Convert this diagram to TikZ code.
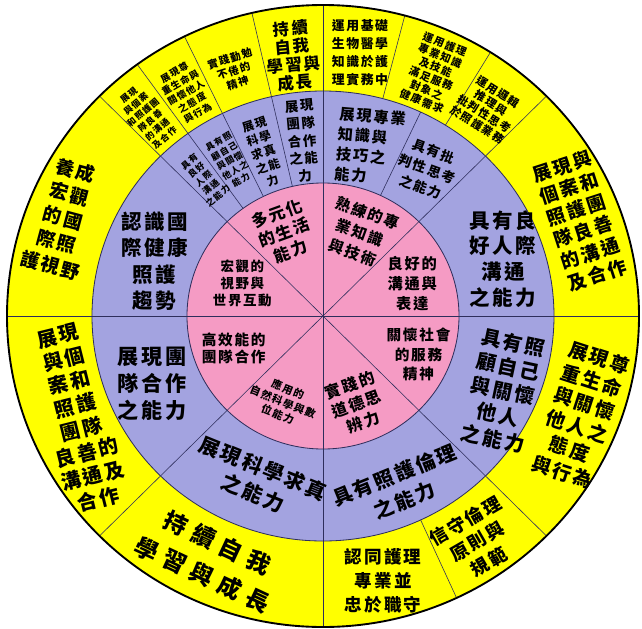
\documentclass[tikz,border=0pt]{standalone}
\usepackage{fontspec}
\newfontfamily\cjk{Noto Sans CJK TC}[LetterSpace=12]
\newfontfamily\cjkwide{Noto Sans CJK TC}[LetterSpace=30]
\usepackage{tikz}
\definecolor{wheelyellow}{HTML}{FFFF00}
\definecolor{wheelpurple}{HTML}{A3A3E0}
\definecolor{wheelpink}{HTML}{F59BC4}
\definecolor{lineblue}{HTML}{2E2E5C}

\begin{document}
\begin{tikzpicture}[
  scale=0.03,
  sep/.style={draw=lineblue, line width=0.5pt},
  rim/.style={draw=lineblue, line width=0.7pt},
  txt/.style 2 args={align=center, inner sep=0pt, text=black,
                     font=\cjk\bfseries\fontsize{#1}{#2}\selectfont},
  widetxt/.style 2 args={align=center, inner sep=0pt, text=black,
                     font=\cjkwide\bfseries\fontsize{#1}{#2}\selectfont}
]
  \useasboundingbox (-323,-312) rectangle (319,316);

  \fill[wheelyellow] (0,0) ellipse [x radius=316, y radius=311];
  \fill[wheelpurple] (0,0) ellipse [x radius=231, y radius=225];
  \fill[wheelpink]   (0,0) ellipse [x radius=136, y radius=133];

  \foreach \a in {0,45,...,315}
    \draw[sep] (0,0) -- (\a:316 and 311);
  \foreach \a in {103,116,126}
    \draw[sep] (\a:136 and 133) -- (\a:316 and 311);
  \draw[sep] (65:136 and 133) -- (65:231 and 225);
  \foreach \a in {75,58,-65}
    \draw[sep] (\a:231 and 225) -- (\a:316 and 311);

  \draw[rim] (0,0) ellipse [x radius=231, y radius=225];
  \draw[rim] (0,0) ellipse [x radius=136, y radius=133];
  \draw[black, line width=1.6pt] (0,0) ellipse [x radius=316, y radius=311];

  % inner ring
  \node[txt={14}{17}, rotate=20]   (pk-life)  at (115:92)  {多元化\\的生活\\能力};
  \node[txt={13}{18}, rotate=-20]  (pk-skill) at (66:91)   {熟練的專\\業知識\\與技術};
  \node[txt={13}{17}]              (pk-comm)  at (20:95)   {良好的\\溝通與\\表達};
  \node[txt={11.5}{14.5}]          (pk-view)  at (158:87)  {宏觀的\\視野與\\世界互動};
  \node[txt={12.5}{15}]            (pk-team)  at (200:95)  {高效能的\\團隊合作};
  \node[txt={9}{11.5}, rotate=-22] (pk-sci)   at (245:95)  {應用的\\自然科學與數\\位能力};
  \node[txt={13.5}{17}, rotate=20] (pk-ethic) at (291:94)  {實踐的\\道德思\\辨力};
  \node[txt={12.5}{16.5}]          (pk-serve) at (338:103) {關懷社會\\的服務\\精神};

  % middle ring
  \node[txt={17.5}{22.5}]           (pu-global) at (162:177)   {認識國\\際健康\\照護\\趨勢};
  \node[txt={18}{23}]               (pu-team)   at (201.7:184) {展現團\\隊合作\\之能力};
  \node[txt={17.5}{23}, rotate=-22] (pu-sci)    at (248.5:177) {展現科學求真\\之能力};
  \node[txt={17}{23}, rotate=22]    (pu-ethic)  at (294:188)   {具有照護倫理\\之能力};
  \node[txt={17}{21}, rotate=-12]   (pu-care)   at (337.4:195) {具有照\\顧自己\\與關懷\\他人\\之能力};
  \node[txt={17.5}{22}]             (pu-comm)   at (17.6:189)  {具有良\\好人際\\溝通\\之能力};
  \node[txt={11.5}{16}, rotate=-20] (pu-crit)   at (54.7:180)  {具有批\\判性思考\\之能力};
  \node[txt={13}{17}, rotate=-5, align=left] (pu-know) at (74.5:176) {展現專業\\知識與\\技巧之\\能力};
  \node[txt={11.5}{15}, rotate=5]   (pu-team2)  at (96.8:176)  {展現\\團隊\\合作\\之能\\力};
  \node[txt={10}{12.5}, rotate=18]  (pu-sci2)   at (110:174)   {展現\\科學\\求真\\之能\\力};
  \node[txt={7.5}{9.5}, rotate=30]  (pu-care2)  at (121:181)   {具有照\\顧自己\\與關懷\\他人之\\能力};
  \node[txt={7.5}{9.5}, rotate=40]  (pu-comm2)  at (131:182)   {具有\\良好\\人際\\溝通\\之能力};

  % outer ring
  \node[txt={16}{21}, rotate=-15]   (ye-global)   at (159.3:278) {養成\\宏觀\\的國\\際照\\護視野};
  \node[txt={17}{20.5}, rotate=14]  (ye-comm)     at (202.6:265) {展現\\與個\\案和\\照護\\團隊\\良善的\\溝通及\\合作};
  \node[widetxt={20}{30}, rotate=-25] (ye-learn)  at (245:268)   {持續自我\\學習與成長};
  \node[txt={15}{20.5}]             (ye-prof)     at (282.8:272) {認同護理\\專業並\\忠於職守};
  \node[txt={15.5}{20}, rotate=30]  (ye-ethic)    at (304.4:273) {信守倫理\\原則與\\規範};
  \node[txt={16.5}{20.5}, rotate=-18] (ye-respect) at (339:276)  {展現尊\\重生命\\與關懷\\他人之\\態度\\與行為};
  \node[txt={16}{19.5}, rotate=18]  (ye-comm2)    at (20.3:274)  {展現與\\個案和\\照護團\\隊良善\\的溝通\\及合作};
  \node[txt={9.5}{11}, rotate=-32]  (ye-logic)    at (51.6:265)  {運用邏輯\\推理與\\批判性思考\\於照護業務};
  \node[txt={9}{10.5}, rotate=-22]  (ye-nurse)    at (65.6:267)  {運用護理\\專業知識\\及技能\\滿足服務\\對象之\\健康需求};
  \node[txt={11}{15.5}]             (ye-bio)      at (82:266)    {運用基礎\\生物醫學\\知識於護\\理實務中};
  \node[txt={14}{15.5}, rotate=5]   (ye-learn2)   at (96.6:262)  {持續\\自我\\學習與\\成長};
  \node[txt={9}{11}, rotate=18]     (ye-diligent) at (110:261)   {實踐勤勉\\不倦的\\精神};
  \node[txt={8}{10}, rotate=30]     (ye-respect2) at (121.5:262) {展現尊\\重生命與\\關懷他人\\之態度\\與行為};
  \node[txt={7.5}{9.5}, rotate=40]  (ye-comm3)    at (131.5:266) {展現\\與個案\\和照護團\\隊良善\\的溝通\\及合作};
\end{tikzpicture}
\end{document}
